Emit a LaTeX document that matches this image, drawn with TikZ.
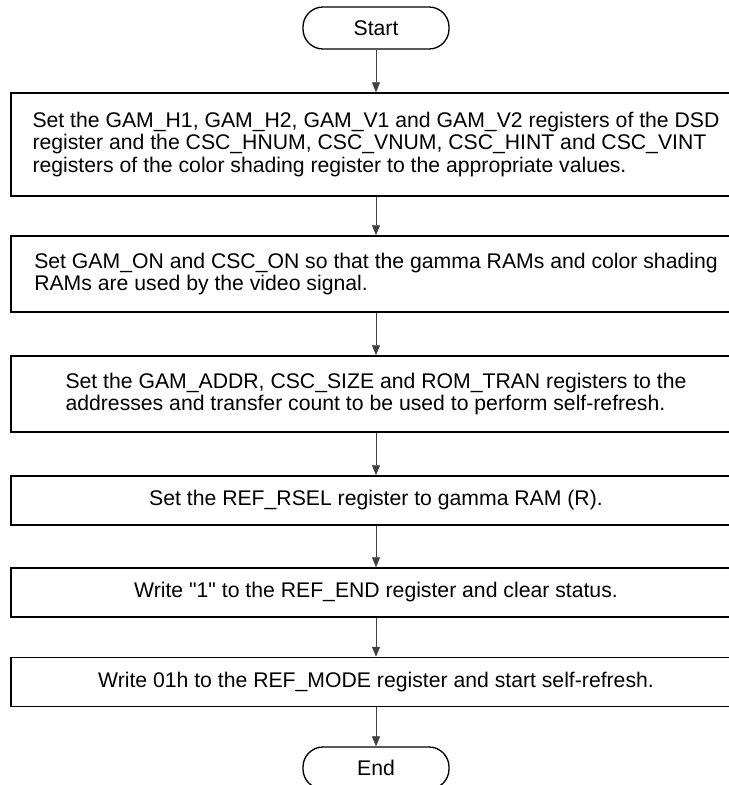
\documentclass[tikz,border=0pt]{standalone}
\usepackage{fontspec}
\setmainfont{Liberation Sans}
\usetikzlibrary{arrows.meta}

\tikzset{every picture/.style={line width=0.75pt}}
\tikzset{
	stepbox/.style={draw, line width=1.1pt, minimum width=547.5pt, align=left, inner sep=0pt, font=\fontsize{15.9}{17}\selectfont},
	termbox/.style={draw, line width=1pt, rounded corners=15pt, minimum width=109.5pt, minimum height=31.5pt, inner sep=0pt, font=\fontsize{15.9}{17}\selectfont},
	flowarrow/.style={draw=black!75, line width=0.6pt, -{Triangle[length=7.5pt,width=6pt]}}
}

\begin{document}
\begin{tikzpicture}[x=0.75pt,y=0.75pt,yscale=-1,xscale=1]
	\useasboundingbox (0,0) rectangle (728,785); %image is cut at right and bottom

	% Terminal Start
	\draw (376,28) node [termbox] (start) {Start};
	% Step Boxes
	\draw (376,144.5) node [stepbox, minimum height=77.25pt] (setdsd) {Set the GAM\_H1, GAM\_H2, GAM\_V1 and GAM\_V2 registers of the DSD\\register and the CSC\_HNUM, CSC\_VNUM, CSC\_HINT and CSC\_VINT\\registers of the color shading register to the appropriate values.};
	\draw (376,274) node [stepbox, minimum height=57pt] (seton) {Set GAM\_ON and CSC\_ON so that the gamma RAMs and color shading\\RAMs are used by the video signal.};
	\draw (376,394) node [stepbox, minimum height=57pt] (setaddr) {Set the GAM\_ADDR, CSC\_SIZE and ROM\_TRAN registers to the\\addresses and transfer count to be used to perform self-refresh.};
	\draw (376,500.5) node [stepbox, minimum height=36.75pt] (setrsel) {Set the REF\_RSEL register to gamma RAM (R).};
	\draw (376,592.5) node [stepbox, minimum height=36.75pt] (writeend) {Write \textquotedbl 1\textquotedbl{} to the REF\_END register and clear status.};
	\draw (376,682) node [stepbox, minimum height=36.75pt] (writemode) {Write 01h to the REF\_MODE register and start self-refresh.};
	% Terminal End
	\draw (376,768) node [termbox] (end) {End};

	% Arrows
	\draw [flowarrow] (start) -- (setdsd);
	\draw [flowarrow] (setdsd) -- (seton);
	\draw [flowarrow] (seton) -- (setaddr);
	\draw [flowarrow] (setaddr) -- (setrsel);
	\draw [flowarrow] (setrsel) -- (writeend);
	\draw [flowarrow] (writeend) -- (writemode);
	\draw [flowarrow] (writemode) -- (end);

\end{tikzpicture}
\end{document}
